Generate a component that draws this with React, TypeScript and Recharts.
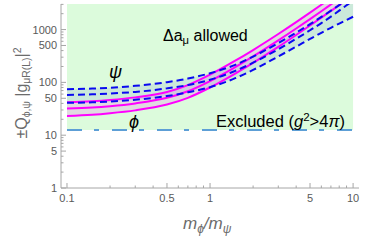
import { Area, ComposedChart, Line, XAxis, YAxis } from "recharts";

// mass ratio m_phi / m_psi
const RATIO = [0.1, 0.15, 0.2, 0.3, 0.5, 0.7, 1, 1.5, 2, 3, 4, 5, 6, 7, 8, 9, 10];

// scalar (phi) band, solid magenta
const PHI_HIGH = [42, 44, 46.5, 52, 66, 89, 140, 257, 410, 824, 1383, 2090, 2945, 3949, 5094, 6332, 7725];
const PHI_MID = [32, 33.5, 35.5, 40, 51, 68, 106, 195, 310, 623, 1046, 1580, 2226, 2985, 3850, 4786, 5840];
const PHI_LOW = [23, 24.3, 26, 29.5, 38, 51, 80, 147, 234, 470, 790, 1194, 1682, 2255, 2909, 3616, 4411];

// fermion (psi) band, dashed blue
const PSI_HIGH = [74, 76.5, 79, 86, 101, 118, 149, 215, 308, 555, 875, 1267, 1733, 2277, 2896, 3591, 4367];
const PSI_MID = [58, 59.5, 61.5, 66, 77, 89, 112, 165, 236, 425, 670, 970, 1327, 1760, 2280, 2880, 3550];
const PSI_LOW = [41, 42, 43.5, 47, 55, 65, 81, 120, 172, 310, 475, 665, 870, 1080, 1300, 1520, 1750];

const X_LABELED = [0.1, 0.5, 1, 5, 10];
const X_MINOR = [0.2, 0.3, 0.4, 0.6, 0.7, 0.8, 0.9, 2, 3, 4, 6, 7, 8, 9];
const Y_LABELED = [1, 5, 10, 50, 100, 500, 1000];
const Y_MINOR = [2, 3, 4, 6, 7, 8, 9, 20, 30, 40, 60, 70, 80, 90, 200, 300, 400, 600, 700, 800, 900, 2000, 3000];

const LIMIT = 4 * Math.PI;
const X_DOMAIN: [number, number] = [0.0908, 11];
const Y_DOMAIN: [number, number] = [1, 3050];

const FRAME = "#a6a6a6";
const TICK_TEXT = "#5a5a5a";
const GREEN = "#dcfbdc";
const MAGENTA = "#ff00ff";
const BLUE = "#0a0af0";
const DASHDOT = "#5d9fd6";
const FONT = '"Liberation Sans", Arial, sans-serif';

const rows = RATIO.map((ratio, i) => ({
  ratio,
  phiHigh: PHI_HIGH[i],
  phiMid: PHI_MID[i],
  phiLow: PHI_LOW[i],
  psiHigh: PSI_HIGH[i],
  psiMid: PSI_MID[i],
  psiLow: PSI_LOW[i],
}));

const X_TICKS = [...X_LABELED, ...X_MINOR].sort((a, b) => a - b);
const Y_TICKS = [...Y_LABELED, ...Y_MINOR].sort((a, b) => a - b);

type Side = "left" | "right" | "top" | "bottom";

function FrameTick(props: any) {
  const { x, y, payload, side } = props as { x: number; y: number; payload: { value: number }; side: Side };
  const v = payload.value;
  const vertical = side === "left" || side === "right";
  const major = (vertical ? Y_LABELED : X_LABELED).includes(v);
  const len = major ? 5 : 2.5;
  let x2 = x;
  let y2 = y;
  if (side === "bottom") y2 = y - len;
  if (side === "top") y2 = y + len;
  if (side === "left") x2 = x + len;
  if (side === "right") x2 = x - len;
  return (
    <g>
      <line x1={x} y1={y} x2={x2} y2={y2} stroke={FRAME} strokeWidth={1} />
      {major && side === "bottom" && (
        <text x={x} y={y + 14} textAnchor="middle" fontSize={11} fill={TICK_TEXT} fontFamily={FONT}>
          {v}
        </text>
      )}
      {major && side === "left" && (
        <text x={x - 4} y={y + 4} textAnchor="end" fontSize={11} fill={TICK_TEXT} fontFamily={FONT}>
          {v}
        </text>
      )}
    </g>
  );
}

const sub = { fontSize: "0.7em", verticalAlign: "-0.3em" } as const;
const tightSub = { fontSize: "0.65em", verticalAlign: "-0.3em" } as const;

export default function App() {
  return (
    <div style={{ position: "absolute", left: 0, top: 0, width: 365, height: 240, fontFamily: FONT }}>
      <ComposedChart width={365} height={240} data={rows} margin={{ top: 4, right: 6, bottom: 0, left: 0 }}>
        <XAxis
          dataKey="ratio"
          type="number"
          scale="log"
          domain={X_DOMAIN}
          allowDataOverflow
          ticks={X_TICKS}
          interval={0}
          height={52}
          tickSize={0}
          tickMargin={0}
          tickLine={false}
          axisLine={{ stroke: FRAME }}
          tick={(p: any) => <FrameTick {...p} side="bottom" />}
        />
        <XAxis
          xAxisId="top"
          orientation="top"
          dataKey="ratio"
          type="number"
          scale="log"
          domain={X_DOMAIN}
          allowDataOverflow
          ticks={X_TICKS}
          interval={0}
          height={0}
          tickSize={0}
          tickMargin={0}
          tickLine={false}
          axisLine={{ stroke: FRAME }}
          tick={(p: any) => <FrameTick {...p} side="top" />}
        />
        <YAxis
          type="number"
          scale="log"
          domain={Y_DOMAIN}
          allowDataOverflow
          ticks={Y_TICKS}
          interval={0}
          width={61}
          tickSize={0}
          tickMargin={0}
          tickLine={false}
          axisLine={{ stroke: FRAME }}
          tick={(p: any) => <FrameTick {...p} side="left" />}
        />
        <YAxis
          yAxisId="right"
          orientation="right"
          type="number"
          scale="log"
          domain={Y_DOMAIN}
          allowDataOverflow
          ticks={Y_TICKS}
          interval={0}
          width={0}
          tickSize={0}
          tickMargin={0}
          tickLine={false}
          axisLine={{ stroke: FRAME }}
          tick={(p: any) => <FrameTick {...p} side="right" />}
        />

        {/* allowed region above the perturbativity bound */}
        <Area
          dataKey={() => [LIMIT, Y_DOMAIN[1] * 1.2]}
          fill={GREEN}
          fillOpacity={1}
          stroke="none"
          isAnimationActive={false}
        />
        <Area
          type="monotone"
          dataKey={(d: any) => [d.psiLow, d.psiHigh]}
          fill="#4a5ad0"
          fillOpacity={0.11}
          stroke="none"
          isAnimationActive={false}
        />
        <Area
          type="monotone"
          dataKey={(d: any) => [d.phiLow, d.phiHigh]}
          fill={MAGENTA}
          fillOpacity={0.13}
          stroke="none"
          isAnimationActive={false}
        />

        <Line dataKey={() => LIMIT} stroke={DASHDOT} strokeWidth={2} strokeDasharray="15 12 5 13" dot={false} isAnimationActive={false} />

        <Line type="monotone" dataKey="phiHigh" stroke={MAGENTA} strokeWidth={2} dot={false} isAnimationActive={false} />
        <Line type="monotone" dataKey="phiMid" stroke={MAGENTA} strokeWidth={2} dot={false} isAnimationActive={false} />
        <Line type="monotone" dataKey="phiLow" stroke={MAGENTA} strokeWidth={2} dot={false} isAnimationActive={false} />

        <Line type="monotone" dataKey="psiHigh" stroke={BLUE} strokeWidth={2} strokeDasharray="7 4" dot={false} isAnimationActive={false} />
        <Line type="monotone" dataKey="psiMid" stroke={BLUE} strokeWidth={2} strokeDasharray="7 4" dot={false} isAnimationActive={false} />
        <Line type="monotone" dataKey="psiLow" stroke={BLUE} strokeWidth={2} strokeDasharray="7 4" dot={false} isAnimationActive={false} />
      </ComposedChart>

      <div style={{ position: "absolute", left: 163, top: 26, fontSize: 16, lineHeight: "20px", color: "#000", whiteSpace: "nowrap" }}>
        Δa<span style={sub}>μ</span> allowed
      </div>
      <div style={{ position: "absolute", left: 109, top: 62, fontSize: 18, lineHeight: "20px", fontStyle: "italic", color: "#000" }}>
        ψ
      </div>
      <div style={{ position: "absolute", left: 129, top: 112, fontSize: 18, lineHeight: "20px", fontStyle: "italic", color: "#000" }}>
        ϕ
      </div>
      <div style={{ position: "absolute", left: 216, top: 107, fontSize: 16.5, lineHeight: "20px", color: "#000", whiteSpace: "nowrap" }}>
        Excluded (<i>g</i>
        <span style={{ fontSize: "0.7em", verticalAlign: "0.55em" }}>2</span>&gt;4<i>π</i>)
      </div>

      <div
        style={{
          position: "absolute",
          left: 183,
          top: 214,
          fontSize: 17,
          lineHeight: "20px",
          fontStyle: "italic",
          color: "#6b6b6b",
          whiteSpace: "nowrap",
        }}
      >
        m<span style={sub}>ϕ</span>/m<span style={sub}>ψ</span>
      </div>

      <div
        style={{
          position: "absolute",
          left: 18 - 100,
          top: 93 - 11,
          width: 200,
          height: 22,
          lineHeight: "22px",
          textAlign: "center",
          transform: "rotate(-90deg)",
          fontSize: 16,
          color: "#6b6b6b",
          whiteSpace: "nowrap",
        }}
      >
        ±Q<span style={tightSub}>ϕ,ψ</span> |g<span style={tightSub}>μR(L)</span>|
        <span style={{ fontSize: "0.65em", verticalAlign: "0.6em" }}>2</span>
      </div>
    </div>
  );
}
